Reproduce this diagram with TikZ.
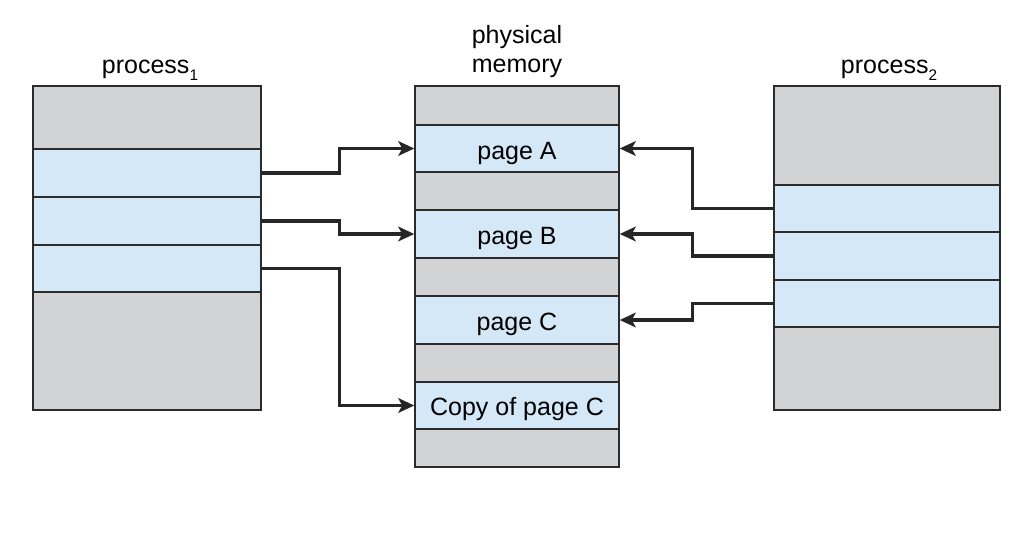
\documentclass[tikz,border=0pt]{standalone}
\usepackage{fontspec}
\setmainfont{Liberation Sans}
\usetikzlibrary{fit,arrows.meta}
\definecolor{cellgray}{HTML}{D1D3D5}
\definecolor{cellblue}{HTML}{D4E8F8}
\definecolor{edge}{HTML}{2B2B2B}
\begin{document}
\begin{tikzpicture}[x=0.75pt,y=-0.75pt,
  cell/.style={draw=edge,line width=1.1pt,inner sep=0pt},
  gcell/.style={cell,fill=cellgray},
  bcell/.style={cell,fill=cellblue},
  lbl/.style={font=\fontsize{18.75}{22}\selectfont,inner sep=0pt,anchor=base},
  arr/.style={draw=black!85,line width=2.3pt,
    -{Stealth[length=12pt,width=11pt,inset=3pt]}}]
\useasboundingbox (0,0) rectangle (1029,543);

% process 1
\node[gcell,fit={(33,86)(261,149)}] (p1a) {};
\node[bcell,fit={(33,149)(261,197)}] (p1b) {};
\node[bcell,fit={(33,197)(261,245)}] (p1c) {};
\node[bcell,fit={(33,245)(261,292)}] (p1d) {};
\node[gcell,fit={(33,292)(261,410)}] (p1e) {};

% physical memory
\node[gcell,fit={(415,86)(619,125)}] (m0) {};
\node[bcell,fit={(415,125)(619,172)}] (mA) {};
\node[gcell,fit={(415,172)(619,210)}] (m1) {};
\node[bcell,fit={(415,210)(619,258)}] (mB) {};
\node[gcell,fit={(415,258)(619,296)}] (m2) {};
\node[bcell,fit={(415,296)(619,344)}] (mC) {};
\node[gcell,fit={(415,344)(619,382)}] (m3) {};
\node[bcell,fit={(415,382)(619,429)}] (mD) {};
\node[gcell,fit={(415,429)(619,467)}] (m4) {};
\node[lbl] (tA) at ([yshift=-8.2pt]mA.center) {page A};
\node[lbl] (tB) at ([yshift=-8.2pt]mB.center) {page B};
\node[lbl] (tC) at ([yshift=-8.2pt]mC.center) {page C};
\node[lbl] (tD) at ([yshift=-7.6pt]mD.center) {Copy of page C};

% process 2
\node[gcell,fit={(774,86)(1000,185)}] (p2a) {};
\node[bcell,fit={(774,185)(1000,232)}] (p2b) {};
\node[bcell,fit={(774,232)(1000,280)}] (p2c) {};
\node[bcell,fit={(774,280)(1000,327)}] (p2d) {};
\node[gcell,fit={(774,327)(1000,410)}] (p2e) {};

% headings
\node[lbl] (t1) at (150,73) {process\raisebox{-0.28em}{\fontsize{11.5}{12}\selectfont 1}};
\node[lbl] (t2) at (889,73) {process\raisebox{-0.28em}{\fontsize{11.5}{12}\selectfont 2}};
\node[lbl] (tm1) at (517,43) {physical};
\node[lbl] (tm2) at (517,72) {memory};

% page mappings
\draw[arr] (p1b.east) -- ++(78,0) |- (mA.west);
\draw[arr] (p1c.east) -- ++(78,0) |- (mB.west);
\draw[arr] (p1d.east) -- ++(78,0) |- (mD.west);
\draw[arr] (p2b.west) -- ++(-81,0) |- (mA.east);
\draw[arr] (p2c.west) -- ++(-81,0) |- (mB.east);
\draw[arr] (p2d.west) -- ++(-81,0) |- (mC.east);
\end{tikzpicture}
\end{document}
